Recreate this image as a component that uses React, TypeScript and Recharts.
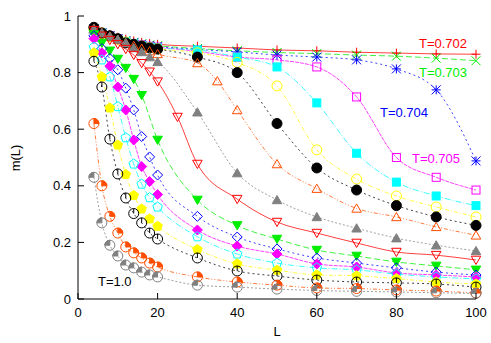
import React from 'react';
import { LineChart, Line, XAxis, YAxis } from 'recharts';

// L values (most series share this grid)
const L_STD = [4, 6, 8, 10, 12, 14, 16, 18, 20, 30, 40, 50, 60, 70, 80, 90, 100];
const L_ORANGE_TRI = [4, 6, 8, 10, 12, 14, 16, 18, 20, 30, 35, 40, 50, 60, 70, 80, 90, 100];
const L_RED_TRI = [4, 6, 8, 10, 12, 14, 16, 18, 20, 25, 30, 40, 50, 60, 70, 80, 90, 100];
const L_GREEN_TRI = [4, 6, 8, 10, 12, 14, 16, 20, 30, 40, 50, 60, 70, 80, 90, 100];

const m702 = [0.96, 0.945, 0.935, 0.925, 0.918, 0.912, 0.907, 0.903, 0.9, 0.893, 0.887, 0.88, 0.877, 0.872, 0.869, 0.866, 0.865];
const m703 = [0.955, 0.94, 0.93, 0.92, 0.913, 0.907, 0.902, 0.898, 0.895, 0.885, 0.877, 0.871, 0.867, 0.862, 0.858, 0.851, 0.842];
const m704 = [0.955, 0.94, 0.93, 0.92, 0.912, 0.905, 0.9, 0.895, 0.892, 0.882, 0.873, 0.862, 0.855, 0.845, 0.813, 0.739, 0.488];
const m705 = [0.955, 0.94, 0.93, 0.92, 0.91, 0.903, 0.898, 0.893, 0.89, 0.875, 0.855, 0.845, 0.82, 0.714, 0.5, 0.43, 0.385];
const m706 = [0.955, 0.94, 0.928, 0.918, 0.91, 0.902, 0.896, 0.89, 0.887, 0.88, 0.855, 0.82, 0.693, 0.515, 0.413, 0.364, 0.33];
const m707 = [0.955, 0.94, 0.928, 0.918, 0.908, 0.9, 0.894, 0.888, 0.884, 0.87, 0.836, 0.753, 0.527, 0.424, 0.364, 0.325, 0.29];
const m708 = [0.96, 0.94, 0.93, 0.92, 0.905, 0.9, 0.894, 0.887, 0.883, 0.855, 0.8, 0.62, 0.463, 0.385, 0.33, 0.29, 0.26];
const m709 = [0.955, 0.94, 0.928, 0.916, 0.905, 0.895, 0.885, 0.876, 0.866, 0.834, 0.77, 0.668, 0.477, 0.39, 0.32, 0.29, 0.255, 0.225];
const m710 = [0.955, 0.94, 0.928, 0.917, 0.905, 0.887, 0.873, 0.855, 0.838, 0.66, 0.445, 0.35, 0.29, 0.25, 0.215, 0.19, 0.17];
const m72 = [0.95, 0.93, 0.915, 0.9, 0.883, 0.862, 0.833, 0.803, 0.768, 0.643, 0.477, 0.353, 0.272, 0.233, 0.198, 0.166, 0.155, 0.138];
const m74 = [0.935, 0.905, 0.877, 0.848, 0.816, 0.777, 0.72, 0.562, 0.35, 0.26, 0.212, 0.173, 0.152, 0.131, 0.117, 0.103];
const m76 = [0.93, 0.885, 0.85, 0.81, 0.745, 0.668, 0.574, 0.502, 0.438, 0.292, 0.219, 0.177, 0.145, 0.127, 0.11, 0.095, 0.085];
const m78 = [0.92, 0.87, 0.823, 0.749, 0.668, 0.562, 0.468, 0.415, 0.369, 0.244, 0.187, 0.159, 0.124, 0.113, 0.092, 0.085, 0.078];
const m80 = [0.89, 0.845, 0.785, 0.68, 0.57, 0.477, 0.406, 0.358, 0.325, 0.22, 0.159, 0.127, 0.11, 0.103, 0.088, 0.078, 0.071];
const m85 = [0.87, 0.785, 0.675, 0.544, 0.44, 0.366, 0.318, 0.283, 0.257, 0.175, 0.124, 0.102, 0.085, 0.082, 0.072, 0.06, 0.053];
const m90 = [0.84, 0.749, 0.565, 0.442, 0.357, 0.302, 0.269, 0.233, 0.212, 0.145, 0.099, 0.081, 0.067, 0.06, 0.057, 0.053, 0.042];
const m95 = [0.62, 0.4, 0.292, 0.233, 0.184, 0.163, 0.145, 0.127, 0.113, 0.078, 0.06, 0.049, 0.039, 0.037, 0.032, 0.028, 0.021];
const m100 = [0.43, 0.269, 0.19, 0.152, 0.12, 0.11, 0.095, 0.085, 0.078, 0.049, 0.042, 0.035, 0.03, 0.027, 0.025, 0.022, 0.02];

const X_TICKS = [0, 20, 40, 60, 80, 100];
const Y_TICKS = [0, 0.2, 0.4, 0.6, 0.8, 1];

const RED = '#ff0000';
const GREEN = '#00ee00';
const BLUE = '#0000ff';
const MAGENTA = '#ff00ff';
const CYAN = '#00ffff';
const YELLOW = '#ffff00';
const BLACK = '#000000';
const ORANGE = '#ff4d00';
const GREY = '#808080';

const series = [
  { id: 's702', L: L_STD, m: m702, color: RED, dash: undefined, mk: 'plus' },
  { id: 's703', L: L_STD, m: m703, color: GREEN, dash: '6 3', mk: 'cross' },
  { id: 's704', L: L_STD, m: m704, color: BLUE, dash: '2 3', mk: 'star' },
  { id: 's705', L: L_STD, m: m705, color: MAGENTA, dash: '4 1', mk: 'box' },
  { id: 's706', L: L_STD, m: m706, color: CYAN, dash: '6 2 1 2', mk: 'boxF' },
  { id: 's707', L: L_STD, m: m707, color: YELLOW, dash: '4 2 1 2', mk: 'circ' },
  { id: 's708', L: L_STD, m: m708, color: BLACK, dash: '2 3', mk: 'circF' },
  { id: 's709', L: L_ORANGE_TRI, m: m709, color: ORANGE, dash: '4 2 1 2 1 2', mk: 'tri' },
  { id: 's710', L: L_STD, m: m710, color: GREY, dash: '2 2', mk: 'triF' },
  { id: 's72', L: L_RED_TRI, m: m72, color: RED, dash: undefined, mk: 'itri' },
  { id: 's74', L: L_GREEN_TRI, m: m74, color: GREEN, dash: '6 3', mk: 'itriF' },
  { id: 's76', L: L_STD, m: m76, color: BLUE, dash: '2 3', mk: 'dia' },
  { id: 's78', L: L_STD, m: m78, color: MAGENTA, dash: '4 1', mk: 'diaF' },
  { id: 's80', L: L_STD, m: m80, color: CYAN, dash: '6 2 1 2', mk: 'pent' },
  { id: 's85', L: L_STD, m: m85, color: YELLOW, dash: '4 2 1 2', mk: 'pentF' },
  { id: 's90', L: L_STD, m: m90, color: BLACK, dash: '2 3', mk: 'c0' },
  { id: 's95', L: L_STD, m: m95, color: ORANGE, dash: '4 2 1 2 1 2', mk: 'c1' },
  { id: 's100', L: L_STD, m: m100, color: GREY, dash: '2 2', mk: 'c2' },
];

const FONT = '"Liberation Sans", Arial, sans-serif';

function poly(cx: number, cy: number, r: number, n: number, start: number) {
  const pts = [];
  for (let k = 0; k < n; k++) {
    const a = ((start + (360 / n) * k) * Math.PI) / 180;
    pts.push(`${cx + r * Math.cos(a)},${cy + r * Math.sin(a)}`);
  }
  return pts.join(' ');
}

function Marker({ cx, cy, mk, color }: any) {
  const s = 4.5;
  const sw = 1;
  switch (mk) {
    case 'plus':
      return <g stroke={color} strokeWidth={sw}><line x1={cx - s} x2={cx + s} y1={cy} y2={cy} /><line x1={cx} x2={cx} y1={cy - s} y2={cy + s} /></g>;
    case 'cross':
      return <g stroke={color} strokeWidth={sw}><line x1={cx - s} x2={cx + s} y1={cy - s} y2={cy + s} /><line x1={cx - s} x2={cx + s} y1={cy + s} y2={cy - s} /></g>;
    case 'star':
      return <g stroke={color} strokeWidth={sw}><line x1={cx - s} x2={cx + s} y1={cy} y2={cy} /><line x1={cx} x2={cx} y1={cy - s} y2={cy + s} /><line x1={cx - s} x2={cx + s} y1={cy - s} y2={cy + s} /><line x1={cx - s} x2={cx + s} y1={cy + s} y2={cy - s} /></g>;
    case 'box':
    case 'boxF':
      return <rect x={cx - 4} y={cy - 4} width={8} height={8} fill={mk === 'boxF' ? color : 'none'} stroke={color} strokeWidth={sw} />;
    case 'circ':
    case 'circF':
      return <circle cx={cx} cy={cy} r={5} fill={mk === 'circF' ? color : 'none'} stroke={color} strokeWidth={sw} />;
    case 'tri':
    case 'triF':
      return <polygon points={poly(cx, cy + 1, 5.5, 3, -90)} fill={mk === 'triF' ? color : 'none'} stroke={color} strokeWidth={sw} />;
    case 'itri':
    case 'itriF':
      return <polygon points={poly(cx, cy - 1, 5.5, 3, 90)} fill={mk === 'itriF' ? color : 'none'} stroke={color} strokeWidth={sw} />;
    case 'dia':
    case 'diaF':
      return <polygon points={poly(cx, cy, 5, 4, -90)} fill={mk === 'diaF' ? color : 'none'} stroke={color} strokeWidth={sw} />;
    case 'pent':
    case 'pentF':
      return <polygon points={poly(cx, cy, 5, 5, -90)} fill={mk === 'pentF' ? color : 'none'} stroke={color} strokeWidth={sw} />;
    case 'c0':
      return <g stroke={color} strokeWidth={sw} fill="none"><circle cx={cx} cy={cy} r={5} /><line x1={cx} x2={cx} y1={cy} y2={cy - 5} /></g>;
    case 'c1':
      return <g stroke={color} strokeWidth={sw}><path d={`M${cx},${cy} L${cx},${cy - 5} A5,5 0 0 1 ${cx + 5},${cy} Z`} fill={color} /><circle cx={cx} cy={cy} r={5} fill="none" /></g>;
    case 'c2':
      return <g stroke={color} strokeWidth={sw}><path d={`M${cx},${cy} L${cx - 5},${cy} A5,5 0 0 1 ${cx},${cy - 5} Z`} fill={color} /><circle cx={cx} cy={cy} r={5} fill="none" /></g>;
    default:
      return null;
  }
}

const fmtY = (v: number) => (v === 0 ? '0' : v === 1 ? '1' : v.toFixed(1));

const BottomTick = ({ x, y, payload }: any) => (
  <g>
    <line x1={x} x2={x} y1={y} y2={y - 6} stroke="#000" />
    <text x={x} y={y + 18} textAnchor="middle" fontSize={13} fontFamily={FONT} fill="#000">{payload.value}</text>
  </g>
);
const LeftTick = ({ x, y, payload }: any) => (
  <g>
    <line x1={x} x2={x + 6} y1={y} y2={y} stroke="#000" />
    <text x={x - 7} y={y + 4.5} textAnchor="end" fontSize={13} fontFamily={FONT} fill="#000">{fmtY(payload.value)}</text>
  </g>
);
const TopTick = ({ x, y }: any) => <line x1={x} x2={x} y1={y} y2={y + 6} stroke="#000" />;
const RightTick = ({ x, y }: any) => <line x1={x} x2={x - 6} y1={y} y2={y} stroke="#000" />;

export default function App() {
  return (
    <div style={{ position: 'absolute', left: 0, top: 0, width: 491, height: 343, background: '#fff' }}>
      <LineChart width={491} height={343} margin={{ top: 16, right: 15, left: 38, bottom: 14 }}>
        <XAxis xAxisId="b" type="number" dataKey="L" domain={[0, 100]} ticks={X_TICKS} height={30}
          tickSize={0} tickMargin={0} tickLine={false} tick={<BottomTick />} axisLine={{ stroke: '#000' }} />
        <XAxis xAxisId="t" orientation="top" type="number" dataKey="L" domain={[0, 100]} ticks={X_TICKS} height={0}
          tickSize={0} tickMargin={0} tickLine={false} tick={<TopTick />} axisLine={{ stroke: '#000' }} />
        <YAxis yAxisId="l" type="number" domain={[0, 1]} ticks={Y_TICKS} width={40}
          tickSize={0} tickMargin={0} tickLine={false} tick={<LeftTick />} axisLine={{ stroke: '#000' }} />
        <YAxis yAxisId="r" orientation="right" type="number" domain={[0, 1]} ticks={Y_TICKS} width={0}
          tickSize={0} tickMargin={0} tickLine={false} tick={<RightTick />} axisLine={{ stroke: '#000' }} />
        {series.map((s) => (
          <Line
            key={s.id}
            xAxisId="b"
            yAxisId="l"
            data={s.L.map((l, i) => ({ L: l, m: s.m[i] }))}
            dataKey="m"
            type="monotone"
            stroke={s.color}
            strokeWidth={1}
            strokeDasharray={s.dash}
            strokeOpacity={0.75}
            dot={(p: any) => <Marker key={`${s.id}-${p.index}`} cx={p.cx} cy={p.cy} mk={s.mk} color={s.color} />}
            activeDot={false}
            isAnimationActive={false}
          />
        ))}
      </LineChart>
      <svg width={491} height={343} style={{ position: 'absolute', left: 0, top: 0, pointerEvents: 'none' }} fontFamily={FONT} fontSize={13}>
        <text x={419} y={48} fill={RED}>T=0.702</text>
        <text x={419} y={77} fill={GREEN}>T=0.703</text>
        <text x={380} y={117} fill={BLUE}>T=0.704</text>
        <text x={412} y={163} fill={MAGENTA}>T=0.705</text>
        <text x={98} y={286} fill={BLACK}>T=1.0</text>
        <text x={277} y={336} textAnchor="middle" fill="#000">L</text>
        <text x={20} y={158} textAnchor="middle" fill="#000" transform="rotate(-90 20 158)">m(L)</text>
      </svg>
    </div>
  );
}
